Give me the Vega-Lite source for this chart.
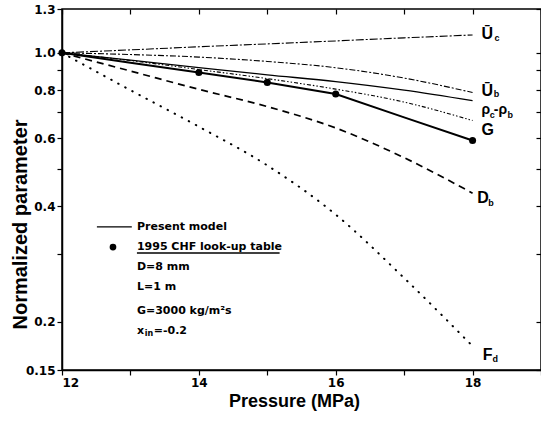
{
  "$schema": "https://vega.github.io/schema/vega-lite/v6.json",
  "width": 479,
  "height": 361,
  "autosize": {"type": "none"},
  "padding": {"left": 62, "top": 9, "right": 0, "bottom": 55},
  "background": "white",
  "config": {
    "view": {"stroke": "black", "strokeWidth": 1.5},
    "axis": {"grid": false, "domainColor": "black", "domainWidth": 1.5, "tickColor": "black", "tickWidth": 1.2, "labelColor": "black", "titleColor": "black"}
  },
  "datasets": {
    "curves": [
      {"p": 12, "v": 1.0, "s": "Uc"}, {"p": 13, "v": 1.018, "s": "Uc"}, {"p": 14, "v": 1.037, "s": "Uc"}, {"p": 15, "v": 1.055, "s": "Uc"}, {"p": 16, "v": 1.074, "s": "Uc"}, {"p": 17, "v": 1.094, "s": "Uc"}, {"p": 18, "v": 1.113, "s": "Uc"},
      {"p": 12, "v": 1.0, "s": "Ub"}, {"p": 13, "v": 0.99, "s": "Ub"}, {"p": 14, "v": 0.975, "s": "Ub"}, {"p": 15, "v": 0.95, "s": "Ub"}, {"p": 16, "v": 0.915, "s": "Ub"}, {"p": 17, "v": 0.86, "s": "Ub"}, {"p": 18, "v": 0.789, "s": "Ub"},
      {"p": 12, "v": 1.0, "s": "S"}, {"p": 13, "v": 0.957, "s": "S"}, {"p": 14, "v": 0.916, "s": "S"}, {"p": 15, "v": 0.877, "s": "S"}, {"p": 16, "v": 0.842, "s": "S"}, {"p": 17, "v": 0.8, "s": "S"}, {"p": 18, "v": 0.751, "s": "S"},
      {"p": 12, "v": 1.0, "s": "rho"}, {"p": 13, "v": 0.955, "s": "rho"}, {"p": 14, "v": 0.905, "s": "rho"}, {"p": 15, "v": 0.857, "s": "rho"}, {"p": 16, "v": 0.805, "s": "rho"}, {"p": 17, "v": 0.745, "s": "rho"}, {"p": 18, "v": 0.667, "s": "rho"},
      {"p": 12, "v": 1.0, "s": "G"}, {"p": 13, "v": 0.943, "s": "G"}, {"p": 14, "v": 0.889, "s": "G"}, {"p": 15, "v": 0.838, "s": "G"}, {"p": 16, "v": 0.782, "s": "G"}, {"p": 17, "v": 0.68, "s": "G"}, {"p": 18, "v": 0.592, "s": "G"},
      {"p": 12, "v": 1.0, "s": "Db"}, {"p": 13, "v": 0.897, "s": "Db"}, {"p": 14, "v": 0.804, "s": "Db"}, {"p": 15, "v": 0.725, "s": "Db"}, {"p": 16, "v": 0.638, "s": "Db"}, {"p": 17, "v": 0.534, "s": "Db"}, {"p": 18, "v": 0.432, "s": "Db"},
      {"p": 12, "v": 1.0, "s": "Fd"}, {"p": 13, "v": 0.8, "s": "Fd"}, {"p": 14, "v": 0.643, "s": "Fd"}, {"p": 15, "v": 0.51, "s": "Fd"}, {"p": 16, "v": 0.38, "s": "Fd"}, {"p": 17, "v": 0.26, "s": "Fd"}, {"p": 18, "v": 0.173, "s": "Fd"}
    ],
    "table": [
      {"p": 12, "v": 1.0}, {"p": 14, "v": 0.889}, {"p": 15, "v": 0.838}, {"p": 16, "v": 0.782}, {"p": 18, "v": 0.592}
    ],
    "bigLabels": [
      {"p": 18.13, "v": 1.087, "t": "Ū"}, {"p": 18.13, "v": 0.774, "t": "Ū"}, {"p": 18.13, "v": 0.61, "t": "G"}, {"p": 18.07, "v": 0.4066, "t": "D"}, {"p": 18.15, "v": 0.1595, "t": "F"}
    ],
    "rhoLabels": [
      {"p": 18.13, "v": 0.695, "t": "ρ"}, {"p": 18.31, "v": 0.695, "t": "-ρ"}
    ],
    "subs": [
      {"p": 18.32, "v": 1.074, "t": "c"}, {"p": 18.31, "v": 0.766, "t": "b"}, {"p": 18.25, "v": 0.676, "t": "c"}, {"p": 18.51, "v": 0.676, "t": "b"}, {"p": 18.23, "v": 0.3995, "t": "b"}, {"p": 18.29, "v": 0.1576, "t": "d"}
    ],
    "legendText": [
      {"p": 13.095, "v": 0.353, "t": "Present model"}, {"p": 13.095, "v": 0.313, "t": "1995 CHF look-up table"}, {"p": 13.095, "v": 0.2777, "t": "D=8 mm"}, {"p": 13.095, "v": 0.2465, "t": "L=1 m"}, {"p": 13.095, "v": 0.2137, "t": "G=3000 kg/m²s"}, {"p": 13.095, "v": 0.1896, "t": "x"}, {"p": 13.34, "v": 0.1896, "t": "=-0.2"}
    ],
    "legendSubs": [
      {"p": 13.21, "v": 0.1857, "t": "in"}
    ],
    "legendRules": [
      {"p": 12.51, "p2": 13.02, "v": 0.353}, {"p": 13.095, "p2": 15.18, "v": 0.302}
    ],
    "legendDot": [
      {"p": 12.745, "v": 0.313}
    ]
  },
  "resolve": {"axis": {"x": "independent", "y": "independent"}},
  "layer": [
    {
      "data": {"name": "curves"},
      "transform": [{"filter": "datum.s == 'Uc'"}],
      "mark": {"type": "line", "color": "black", "strokeWidth": 1.1, "strokeDash": [8, 2, 2, 2]},
      "encoding": {
        "x": {"field": "p", "type": "quantitative", "scale": {"domain": [12, 19], "nice": false, "zero": false},
          "axis": {"orient": "bottom", "values": [12, 13, 14, 15, 16, 17, 18, 19], "labelExpr": "(datum.value % 2 == 0 && datum.value < 19) ? datum.label : ''", "tickSize": 5, "labelPadding": 2, "labelFont": "DejaVu Sans", "labelFontWeight": "bold", "labelFontSize": 12, "title": "Pressure (MPa)", "titleFont": "Liberation Sans", "titleFontWeight": "bold", "titleFontSize": 18, "titleX": 232, "titleY": 31, "titleBaseline": "middle", "titleAlign": "center"}},
        "y": {"field": "v", "type": "quantitative", "scale": {"type": "log", "domain": [0.15, 1.3], "nice": false, "zero": false},
          "axis": {"orient": "left", "values": [0.15, 0.2, 0.3, 0.4, 0.5, 0.6, 0.7, 0.8, 0.9, 1.0, 1.3], "labelExpr": "datum.value == 1 ? '1.0' : (datum.value == 0.3 || datum.value == 0.5 || datum.value == 0.7 || datum.value == 0.9) ? '' : format(datum.value, '~g')", "tickSize": 5, "labelPadding": 2, "labelFont": "DejaVu Sans", "labelFontWeight": "bold", "labelFontSize": 12, "title": "Normalized parameter", "titleFont": "Liberation Sans", "titleFontWeight": "bold", "titleFontSize": 20, "titleAngle": -90, "titleX": -42, "titleY": 215, "titleBaseline": "middle", "titleAlign": "center"}}
      }
    },
    {
      "data": {"name": "curves"},
      "transform": [{"filter": "datum.s == 'Ub'"}],
      "mark": {"type": "line", "color": "black", "strokeWidth": 1.1, "strokeDash": [6, 2, 2, 2], "interpolate": "monotone"},
      "encoding": {
        "x": {"field": "p", "type": "quantitative", "axis": {"orient": "top", "values": [12, 13, 14, 15, 16, 17, 18, 19], "labels": false, "title": null, "tickSize": -5, "domain": false}},
        "y": {"field": "v", "type": "quantitative", "axis": {"orient": "right", "values": [0.15, 0.2, 0.3, 0.4, 0.5, 0.6, 0.7, 0.8, 0.9, 1.0, 1.3], "labels": false, "title": null, "tickSize": -5, "domain": false}}
      }
    },
    {
      "data": {"name": "curves"},
      "transform": [{"filter": "datum.s == 'S'"}],
      "mark": {"type": "line", "color": "black", "strokeWidth": 1.3, "interpolate": "monotone"},
      "encoding": {
        "x": {"field": "p", "type": "quantitative", "axis": null},
        "y": {"field": "v", "type": "quantitative", "axis": null}
      }
    },
    {
      "data": {"name": "curves"},
      "transform": [{"filter": "datum.s == 'rho'"}],
      "mark": {"type": "line", "color": "black", "strokeWidth": 1.1, "strokeDash": [4, 2, 1.5, 2, 1.5, 2], "interpolate": "monotone"},
      "encoding": {
        "x": {"field": "p", "type": "quantitative", "axis": null},
        "y": {"field": "v", "type": "quantitative", "axis": null}
      }
    },
    {
      "data": {"name": "curves"},
      "transform": [{"filter": "datum.s == 'G'"}],
      "mark": {"type": "line", "color": "black", "strokeWidth": 2},
      "encoding": {
        "x": {"field": "p", "type": "quantitative", "axis": null},
        "y": {"field": "v", "type": "quantitative", "axis": null}
      }
    },
    {
      "data": {"name": "curves"},
      "transform": [{"filter": "datum.s == 'Db'"}],
      "mark": {"type": "line", "color": "black", "strokeWidth": 1.7, "strokeDash": [7, 5], "interpolate": "monotone"},
      "encoding": {
        "x": {"field": "p", "type": "quantitative", "axis": null},
        "y": {"field": "v", "type": "quantitative", "axis": null}
      }
    },
    {
      "data": {"name": "curves"},
      "transform": [{"filter": "datum.s == 'Fd'"}],
      "mark": {"type": "line", "color": "black", "strokeWidth": 2, "strokeDash": [0.5, 7.5], "strokeCap": "round", "interpolate": "monotone"},
      "encoding": {
        "x": {"field": "p", "type": "quantitative", "axis": null},
        "y": {"field": "v", "type": "quantitative", "axis": null}
      }
    },
    {
      "data": {"name": "table"},
      "mark": {"type": "point", "filled": true, "color": "black", "opacity": 1, "size": 50},
      "encoding": {
        "x": {"field": "p", "type": "quantitative", "axis": null},
        "y": {"field": "v", "type": "quantitative", "axis": null}
      }
    },
    {
      "data": {"name": "bigLabels"},
      "mark": {"type": "text", "font": "Liberation Sans", "fontWeight": "bold", "fontSize": 16, "align": "left", "baseline": "alphabetic", "color": "black"},
      "encoding": {
        "x": {"field": "p", "type": "quantitative", "axis": null},
        "y": {"field": "v", "type": "quantitative", "axis": null},
        "text": {"field": "t"}
      }
    },
    {
      "data": {"name": "rhoLabels"},
      "mark": {"type": "text", "font": "Liberation Sans", "fontWeight": "bold", "fontSize": 14, "align": "left", "baseline": "alphabetic", "color": "black"},
      "encoding": {
        "x": {"field": "p", "type": "quantitative", "axis": null},
        "y": {"field": "v", "type": "quantitative", "axis": null},
        "text": {"field": "t"}
      }
    },
    {
      "data": {"name": "subs"},
      "mark": {"type": "text", "font": "Liberation Sans", "fontWeight": "bold", "fontSize": 9, "align": "left", "baseline": "alphabetic", "color": "black"},
      "encoding": {
        "x": {"field": "p", "type": "quantitative", "axis": null},
        "y": {"field": "v", "type": "quantitative", "axis": null},
        "text": {"field": "t"}
      }
    },
    {
      "data": {"name": "legendRules"},
      "mark": {"type": "rule", "color": "black", "strokeWidth": 1.3},
      "encoding": {
        "x": {"field": "p", "type": "quantitative", "axis": null},
        "x2": {"field": "p2"},
        "y": {"field": "v", "type": "quantitative", "axis": null}
      }
    },
    {
      "data": {"name": "legendDot"},
      "mark": {"type": "point", "filled": true, "color": "black", "opacity": 1, "size": 45},
      "encoding": {
        "x": {"field": "p", "type": "quantitative", "axis": null},
        "y": {"field": "v", "type": "quantitative", "axis": null}
      }
    },
    {
      "data": {"name": "legendText"},
      "mark": {"type": "text", "font": "DejaVu Sans", "fontWeight": "bold", "fontSize": 11, "align": "left", "baseline": "middle", "color": "black"},
      "encoding": {
        "x": {"field": "p", "type": "quantitative", "axis": null},
        "y": {"field": "v", "type": "quantitative", "axis": null},
        "text": {"field": "t"}
      }
    },
    {
      "data": {"name": "legendSubs"},
      "mark": {"type": "text", "font": "DejaVu Sans", "fontWeight": "bold", "fontSize": 8, "align": "left", "baseline": "middle", "color": "black"},
      "encoding": {
        "x": {"field": "p", "type": "quantitative", "axis": null},
        "y": {"field": "v", "type": "quantitative", "axis": null},
        "text": {"field": "t"}
      }
    }
  ]
}
